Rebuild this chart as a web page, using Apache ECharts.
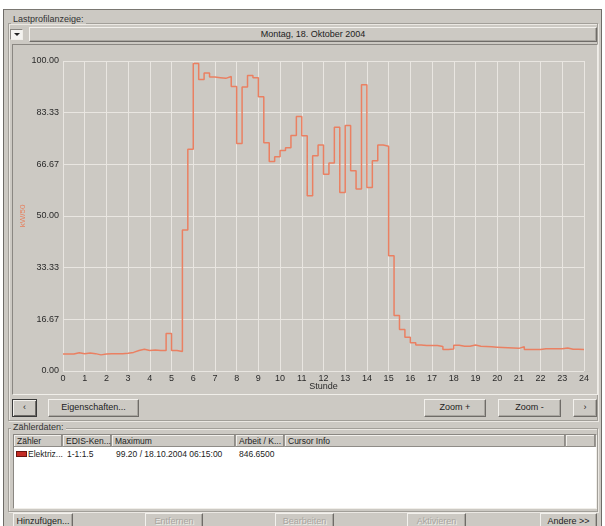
<!DOCTYPE html>
<html><head><meta charset="utf-8">
<script src="https://cdn.jsdelivr.net/npm/echarts@6/dist/echarts.min.js"></script>
<style>
body{margin:0;width:605px;height:526px;overflow:hidden;background:#fff;font-family:"Liberation Sans",Arial,sans-serif;font-size:9px;color:#222;position:relative}
.a{position:absolute;box-sizing:border-box}
#win{left:3px;top:9px;width:599px;height:520px;background:#ccc9c3;border-left:1px solid #6e6b67;border-top:1px solid #7a7772;border-right:1px solid #6e6b67}
.grp{border:1px solid #a29f99;box-shadow:inset 1px 1px 0 #ebe8e3, 1px 1px 0 #ebe8e3}
.lbl{background:#ccc9c3;padding:0 2px;line-height:10px;color:#333}
.btn{background:#ccc9c3;border:1px solid;border-color:#f3f1ed #6f6c68 #6f6c68 #f3f1ed;box-shadow:inset -1px -1px 0 #a9a6a0;text-align:center;line-height:15px;color:#222;white-space:nowrap}
.dis{color:#a8a5a0;text-shadow:1px 1px 0 #efede9}
.sunk{border:1px solid;border-color:#8a8782 #f0eee9 #f0eee9 #8a8782}
.th{top:0;height:12px;line-height:12px;border-right:1px solid #9a9792;padding-left:3px;background:#ccc9c3;box-shadow:inset -1px -1px 0 #8f8c87, inset 1px 1px 0 #f2f0ec;white-space:nowrap;overflow:hidden;font-size:8.5px}
.td{line-height:11px;white-space:nowrap;font-size:8.5px}
#chart{left:0;top:0;width:605px;height:526px;z-index:5;pointer-events:none}
</style></head>
<body>
<div id="win" class="a"></div>
<div class="a grp" style="left:8px;top:23px;width:590px;height:398px"></div>
<div class="a lbl" style="left:11px;top:14px">Lastprofilanzeige:</div>
<div class="a sunk" style="left:10px;top:29px;width:13px;height:11px;background:#f4f3f0"></div>
<div class="a" style="left:14px;top:33px;width:0;height:0;border-left:3px solid transparent;border-right:3px solid transparent;border-top:3px solid #222"></div>
<div class="a btn" style="left:29px;top:27px;width:568px;height:15px;line-height:13px">Montag, 18. Oktober 2004</div>
<div class="a sunk" style="left:12px;top:44px;width:586px;height:351px"></div>

<div class="a btn" style="left:12px;top:399px;width:25px;height:18px;border:1px solid #3a3a3a;box-shadow:inset 1px 1px 0 #f3f1ed, inset -1px -1px 0 #6f6c68">&lsaquo;</div>
<div class="a btn" style="left:48px;top:399px;width:91px;height:18px">Eigenschaften...</div>
<div class="a btn" style="left:424px;top:399px;width:62px;height:18px">Zoom +</div>
<div class="a btn" style="left:498px;top:399px;width:63px;height:18px">Zoom -</div>
<div class="a btn" style="left:573px;top:399px;width:24px;height:18px">&rsaquo;</div>

<div class="a grp" style="left:8px;top:428px;width:590px;height:84px"></div>
<div class="a lbl" style="left:11px;top:422px">Zählerdaten:</div>
<div class="a sunk" style="left:13px;top:434px;width:584px;height:75px;background:#fff">
  <div class="a th" style="left:0;width:49px">Zähler</div>
  <div class="a th" style="left:49px;width:49px">EDIS-Ken...</div>
  <div class="a th" style="left:98px;width:124px">Maximum</div>
  <div class="a th" style="left:222px;width:49px">Arbeit / K...</div>
  <div class="a th" style="left:271px;width:281px">Cursor Info</div>
  <div class="a th" style="left:552px;width:30px"></div>
  <div class="a" style="left:2px;top:16px;width:11px;height:6px;background:#c42c24;border:1px solid #6a1410"></div>
  <div class="a td" style="left:14px;top:14px">Elektriz...</div>
  <div class="a td" style="left:53px;top:14px">1-1:1.5</div>
  <div class="a td" style="left:102px;top:14px">99.20 / 18.10.2004 06:15:00</div>
  <div class="a td" style="left:225px;top:14px">846.6500</div>
</div>
<div class="a btn" style="left:13px;top:513px;width:60px;height:16px">Hinzufügen...</div>
<div class="a btn dis" style="left:145px;top:513px;width:58px;height:16px">Entfernen</div>
<div class="a btn dis" style="left:275px;top:513px;width:59px;height:16px">Bearbeiten</div>
<div class="a btn dis" style="left:407px;top:513px;width:59px;height:16px">Aktivieren</div>
<div class="a btn" style="left:540px;top:513px;width:57px;height:16px">Andere &gt;&gt;</div>

<div id="chart" class="a"></div>
<script>
// 15-minute load values, kW (96 slots, 00:00 - 24:00)
const loadKW = [
  5.5, 5.5, 5.9, 5.6,   5.8, 5.6, 5.2, 5.5,   5.6, 5.6, 5.6, 5.7,
  6.0, 6.6, 7.0, 6.6,   6.8, 6.6, 6.6, 12.1,  6.6, 6.3, 45.5, 71.5,
  99.2, 94.0, 96.1, 94.8, 94.6, 94.4, 95.0, 91.8, 73.4, 91.6, 95.3, 94.6,
  88.5, 73.6, 67.6, 69.1, 71.1, 72.0, 76.0, 82.1, 75.9, 56.5, 69.4, 72.9,
  63.5, 67.1, 78.6, 57.6, 79.2, 64.6, 58.7, 92.3, 59.2, 67.8, 72.9, 72.5,
  37.2, 17.9, 13.4, 10.9, 9.1, 8.4, 8.2, 8.2,  8.2, 7.9, 6.9, 7.1,
  8.3, 8.0, 8.0, 8.4,   8.0, 7.9, 7.8, 7.7,   7.6, 7.5, 7.4, 7.3,
  7.8, 6.9, 6.9, 6.9,   7.2, 7.2, 7.2, 7.2,   7.4, 7.0, 7.0, 6.9
];
const slotHours = 0.25;
const xTicks = [0, 24, 1];          // min, max, step (Stunde)
const yTicks = [0, 100, 100 / 6];   // min, max, step
const xName = 'Stunde';
const yName = 'kW/50';

const seriesData = loadKW.map((v, i) => [i * slotHours, v]);
seriesData.push([xTicks[1], loadKW[loadKW.length - 1]]);

const chart = echarts.init(document.getElementById('chart'), null, {renderer: 'canvas'});
chart.setOption({
  backgroundColor: 'transparent',
  animation: false,
  grid: {left: 63, top: 61, width: 521, height: 310, containLabel: false},
  xAxis: {
    type: 'value', min: xTicks[0], max: xTicks[1], interval: xTicks[2],
    name: xName, nameLocation: 'middle', nameGap: 11, nameMoveOverlap: false,
    nameTextStyle: {color: '#2a2a2a', fontSize: 9, fontFamily: 'Liberation Sans'},
    axisLine: {show: false}, axisTick: {show: false},
    axisLabel: {color: '#2a2a2a', fontSize: 9, margin: 3, showMinLabel: true, showMaxLabel: true, fontFamily: 'Liberation Sans'},
    splitLine: {show: true, lineStyle: {color: '#e9e6e1', width: 1}}
  },
  yAxis: {
    type: 'value', min: yTicks[0], max: yTicks[1], interval: yTicks[2],
    name: yName, nameLocation: 'middle', nameRotate: 90, nameGap: 36, nameMoveOverlap: false,
    nameTextStyle: {color: '#e6805f', fontSize: 8, fontFamily: 'Liberation Sans'},
    axisLine: {show: false}, axisTick: {show: false},
    axisLabel: {color: '#2a2a2a', fontSize: 9, margin: 4, fontFamily: 'Liberation Sans',
      formatter: v => Number(v).toFixed(2)},
    splitLine: {show: true, lineStyle: {color: '#e9e6e1', width: 1}}
  },
  series: [{
    type: 'line', step: 'end', data: seriesData, showSymbol: false, symbol: 'none',
    lineStyle: {color: '#ea8062', width: 1.5}, silent: true
  }]
});
</script>
</body></html>
